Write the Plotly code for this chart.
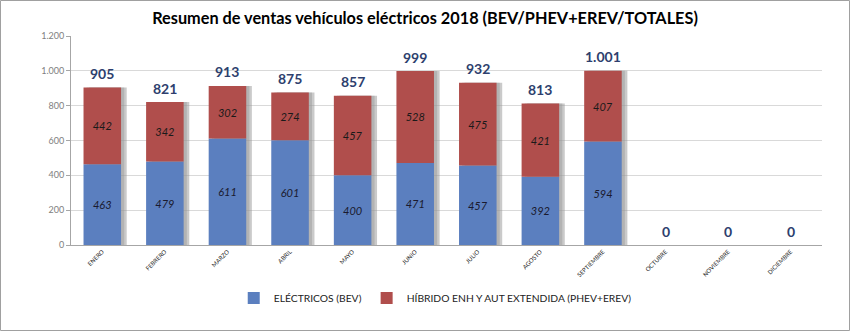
import plotly.graph_objects as go

meses = ["ENERO", "FEBRERO", "MARZO", "ABRIL", "MAYO", "JUNIO", "JULIO",
         "AGOSTO", "SEPTIEMBRE", "OCTUBRE", "NOVIEMBRE", "DICIEMBRE"]
bev = [463, 479, 611, 601, 400, 471, 457, 392, 594, 0, 0, 0]
phev = [442, 342, 302, 274, 457, 528, 475, 421, 407, 0, 0, 0]
totales = [905, 821, 913, 875, 857, 999, 932, 813, 1001, 0, 0, 0]
y_ticks = [0, 200, 400, 600, 800, 1000, 1200]

def fmt(v):
    return f"{v:,}".replace(",", ".")

def fmt_nz(v):
    return "" if v == 0 else fmt(v)

BW = 0.6
fig = go.Figure()
# soft shadow behind each stacked column
fig.add_trace(go.Bar(
    x=meses, y=totales, width=BW, offset=-BW / 2 + 0.09, showlegend=False,
    marker=dict(color="rgba(150,150,150,0.5)", line=dict(width=0)), hoverinfo="skip",
))
fig.add_trace(go.Bar(
    x=meses, y=totales, width=BW, offset=-BW / 2 + 0.05, showlegend=False,
    marker=dict(color="rgba(150,150,150,0.45)", line=dict(width=0)), hoverinfo="skip",
))
fig.add_trace(go.Bar(
    x=meses, y=bev, base=[0] * len(bev), width=BW, offset=-BW / 2,
    name="ELÉCTRICOS (BEV)",
    marker=dict(color="#5B7FBF", line=dict(width=0)),
    text=[fmt_nz(v) for v in bev], textposition="inside", insidetextanchor="middle",
    textfont=dict(family="Lato", size=11, color="#1a1a2e", style="italic"),
    textangle=0,
))
fig.add_trace(go.Bar(
    x=meses, y=phev, base=bev, width=BW, offset=-BW / 2,
    name="HÍBRIDO ENH Y AUT EXTENDIDA (PHEV+EREV)",
    marker=dict(color="#B04E4C", line=dict(width=0)),
    text=[fmt_nz(v) for v in phev], textposition="inside", insidetextanchor="middle",
    textfont=dict(family="Lato", size=11, color="#1a1a1a", style="italic"),
    textangle=0,
))

for m, t in zip(meses, totales):
    fig.add_annotation(x=m, y=t, text=f"<b>{fmt(t)}</b>", showarrow=False,
                       yshift=14, yanchor="middle",
                       font=dict(family="Lato", size=14, color="#2E3F6E"))

fig.update_layout(
    barmode="overlay",
    width=850, height=331,
    margin=dict(l=71, r=28, t=36, b=86),
    paper_bgcolor="white", plot_bgcolor="white",
    separators=",.",
    title=dict(text="<b>Resumen de ventas vehículos eléctricos 2018 (BEV/PHEV+EREV/TOTALES)</b>",
               x=0.5, xanchor="center", y=0.945, yanchor="middle",
               font=dict(family="Lato", size=16.3, color="#000000")),
    legend=dict(orientation="h", x=0.485, xanchor="center", y=-0.254, yanchor="middle",
                font=dict(family="Lato", size=10.3, color="#222222"),
                itemwidth=30, traceorder="normal"),
    showlegend=True,
)
fig.update_xaxes(
    tickangle=-45, tickfont=dict(family="Lato", size=6, color="#222222"),
    showline=True, linecolor="#A6A6A6", linewidth=1, showgrid=False,
    ticks="", automargin=False,
)
fig.update_yaxes(
    range=[0, 1200], tickvals=y_ticks,
    ticktext=[fmt(v) for v in y_ticks],
    tickfont=dict(family="Lato", size=9, color="#808080"),
    showline=True, linecolor="#A6A6A6", linewidth=1,
    showgrid=True, gridcolor="#D9D9D9", gridwidth=1,
    ticks="outside", ticklen=4, tickcolor="#A6A6A6", zeroline=False,
    automargin=False,
)
fig.add_shape(type="rect", xref="paper", yref="paper",
              x0=-70.5 / 751, x1=(849.5 - 71) / 751,
              y0=-85.5 / 209, y1=(330.5 - 86) / 209,
              line=dict(color="#A0A0A0", width=1))

fig.write_html("out.html")
